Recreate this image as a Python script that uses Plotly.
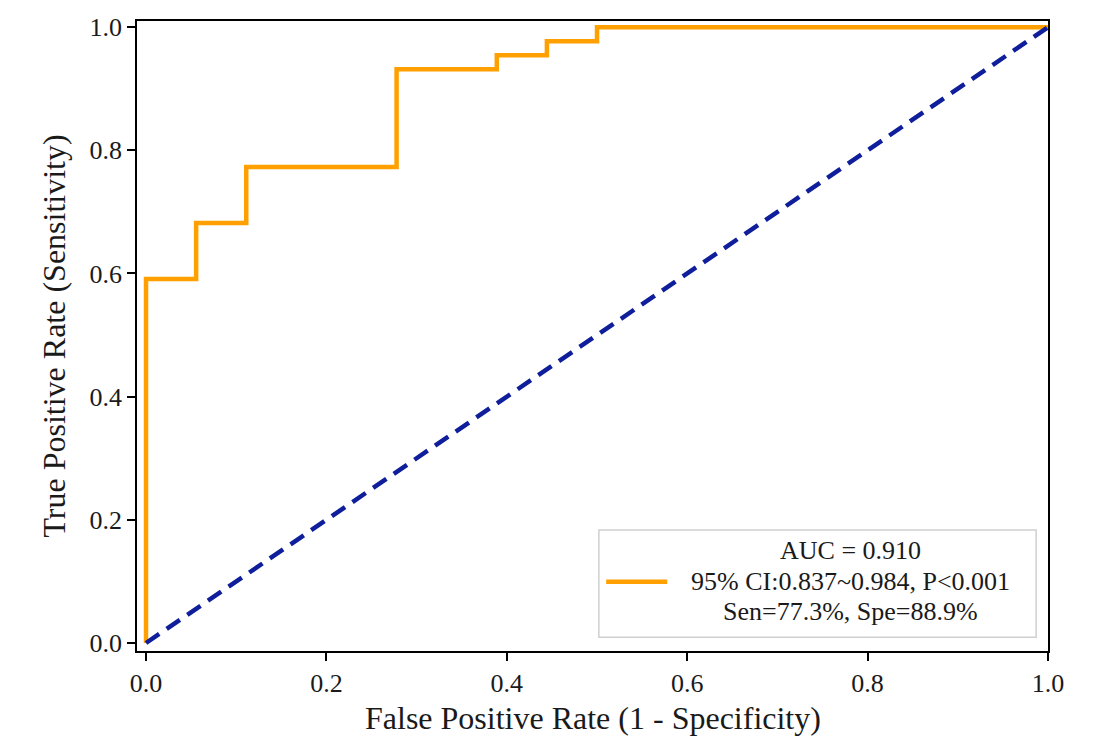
import plotly.graph_objects as go

# ROC data (step points)
fpr = [0.0, 0.0, 1/18, 2/18, 5/18, 7/18, 8/18, 9/18, 1.0]
tpr = [0.0, 26/44, 30/44, 34/44, 41/44, 42/44, 43/44, 1.0, 1.0]
diag_x = [0.0, 1.0]
diag_y = [0.0, 1.0]
legend_lines = ["AUC = 0.910", "95% CI:0.837~0.984, P<0.001", "Sen=77.3%, Spe=88.9%"]
x_ticks = [0.0, 0.2, 0.4, 0.6, 0.8, 1.0]
y_ticks = [0.0, 0.2, 0.4, 0.6, 0.8, 1.0]
x_title = "False Positive Rate (1 - Specificity)"
y_title = "True Positive Rate (Sensitivity)"

FONT = "Liberation Serif, Times New Roman, serif"
TXT = "#1a1a1a"

fig = go.Figure()
fig.add_trace(go.Scatter(x=fpr, y=tpr, mode="lines", line=dict(color="#FFA000", width=4.5, shape="hv"),
                         showlegend=False, hoverinfo="skip"))
fig.add_trace(go.Scatter(x=diag_x, y=diag_y, mode="lines",
                         line=dict(color="#0F1E9A", width=4.5, dash="16px,9px"),
                         showlegend=False, hoverinfo="skip"))

axis_common = dict(showgrid=False, zeroline=False, showline=True, linecolor="black", linewidth=1.8,
                   mirror=True, ticks="outside", ticklen=8, tickwidth=1.8, tickcolor="black",
                   automargin=False,
                   tickformat=".1f", tickfont=dict(family=FONT, size=26, color=TXT))

fig.update_xaxes(range=[-0.01, 1.0], tickvals=x_ticks, **axis_common)
fig.update_yaxes(range=[-0.013, 1.01], tickvals=y_ticks,
                 title=dict(text=y_title, font=dict(family=FONT, size=32, color=TXT), standoff=14),
                 **axis_common)

# x-axis title
fig.add_annotation(text=x_title, xref="paper", yref="paper", x=0.5, y=-0.106,
                   showarrow=False, xanchor="center", yanchor="middle",
                   font=dict(family=FONT, size=32, color=TXT))

# legend box
fig.add_shape(type="rect", xref="paper", yref="paper", x0=0.507, x1=0.987, y0=0.022, y1=0.192,
              line=dict(color="#d0d0d0", width=1.5), fillcolor="rgba(255,255,255,0.8)", layer="above")
fig.add_shape(type="line", xref="paper", yref="paper", x0=0.515, x1=0.582, y0=0.110, y1=0.110,
              line=dict(color="#FFA000", width=4.5), layer="above")
for i, t in enumerate(legend_lines):
    fig.add_annotation(text=t, xref="paper", yref="paper", x=0.783, y=0.159 - i * 0.048,
                       showarrow=False, xanchor="center", yanchor="middle",
                       font=dict(family=FONT, size=26, color=TXT))

fig.update_layout(width=1078, height=736, margin=dict(l=129, r=38, t=13, b=93),
                  paper_bgcolor="white", plot_bgcolor="white")

fig.write_html("out.html")
